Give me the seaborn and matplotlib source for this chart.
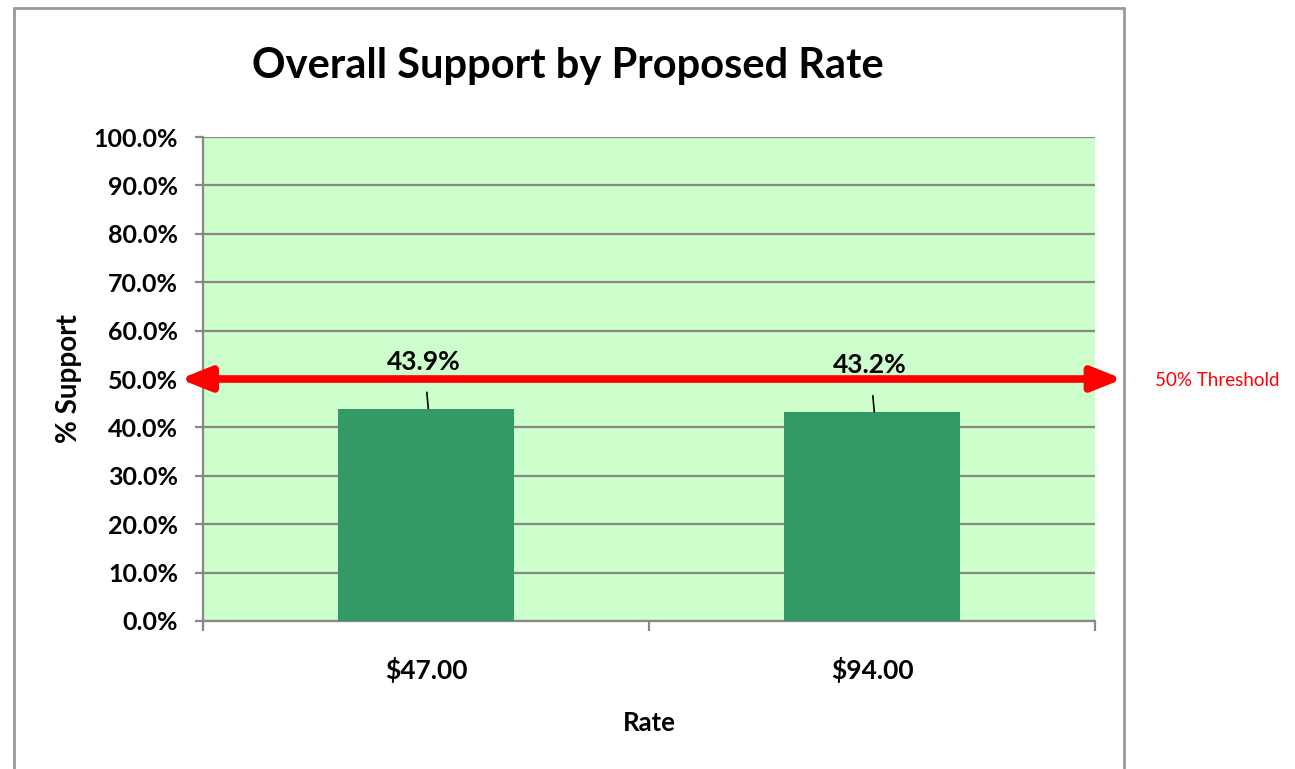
import pandas as pd
import seaborn as sns
import matplotlib.pyplot as plt
from matplotlib.lines import Line2D
from matplotlib.ticker import PercentFormatter

# Data
rates = ["$47.00", "$94.00"]
support = [0.439, 0.432]
threshold = 0.5
threshold_label = "50% Threshold"

df = pd.DataFrame({"Rate": rates, "Support": support})

sns.set_style("white")
plt.rcParams["font.family"] = ["Lato", "DejaVu Sans"]
plt.rcParams["font.weight"] = "bold"
plt.rcParams["axes.labelweight"] = "bold"
plt.rcParams["text.color"] = "black"
plt.rcParams["axes.labelcolor"] = "black"
plt.rcParams["xtick.color"] = "black"
plt.rcParams["ytick.color"] = "black"

fig = plt.figure(figsize=(12.95, 7.69), dpi=100)
ax = fig.add_axes([0.1568, 0.1925, 0.6888, 0.6293])
ax.set_facecolor("#CCFFCC")

sns.barplot(data=df, x="Rate", y="Support", color="#339966", width=0.395,
            saturation=1, ax=ax, zorder=3, edgecolor="none", linewidth=0)

ax.set_ylim(0, 1)
ax.set_xlim(-0.5, 1.5)
ax.set_yticks([i / 10 for i in range(11)])
ax.yaxis.set_major_formatter(PercentFormatter(1.0, decimals=1))
ax.grid(axis="y", color="#888888", linewidth=1.6, zorder=1)
ax.set_axisbelow(True)

for s in ["top", "right"]:
    ax.spines[s].set_visible(False)
for s in ["left", "bottom"]:
    ax.spines[s].set_color("#888888")
    ax.spines[s].set_linewidth(1.6)

ax.tick_params(axis="y", left=True, length=6, width=1.6, color="#888888",
               pad=12, labelsize=18, labelcolor="black")
ax.set_xticks([-0.5, 0.5, 1.5], minor=True)
ax.tick_params(axis="x", which="minor", bottom=True, length=7, width=1.6,
               color="#888888", direction="out")
ax.tick_params(axis="x", which="major", length=0, pad=26, labelsize=19,
               labelcolor="black")

ax.set_xlabel("Rate", fontsize=18.5, fontweight="bold", labelpad=20)
ax.set_ylabel("% Support", fontsize=20, fontweight="bold", labelpad=8)

# threshold arrow
ax.annotate("", xy=(-0.026, threshold), xytext=(1.031, threshold),
            xycoords=ax.get_yaxis_transform(), textcoords=ax.get_yaxis_transform(),
            annotation_clip=False, zorder=6,
            arrowprops=dict(arrowstyle="<|-|>,head_length=1.0,head_width=0.4",
                            color="red", lw=5.5, mutation_scale=18,
                            shrinkA=0, shrinkB=0))
fig.text(1217 / 1295, 1 - 381 / 769, threshold_label, color="red",
         fontsize=13.5, fontweight="normal", ha="center", va="center")

# bar value labels with leader lines
for i, v in enumerate(support):
    ax.annotate(f"{v:.1%}", xy=(i + 0.005, v), xytext=(-3, 25),
                textcoords="offset points", ha="center", va="bottom",
                fontsize=19, fontweight="bold", color="black", zorder=7,
                arrowprops=dict(arrowstyle="-", color="black", lw=1.2,
                                shrinkA=11, shrinkB=0))

fig.text(568 / 1295, 1 - 66 / 769, "Overall Support by Proposed Rate",
         fontsize=30, fontweight="bold", ha="center", va="center")

# outer chart border
for xs, ys in [([0.0108, 0.0108], [0.0, 0.9896]),
               ([0.0108, 0.868], [0.9896, 0.9896]),
               ([0.868, 0.868], [0.0, 0.9896])]:
    fig.add_artist(Line2D(xs, ys, color="#999999", linewidth=2))

fig.savefig("out.png", dpi=100)
